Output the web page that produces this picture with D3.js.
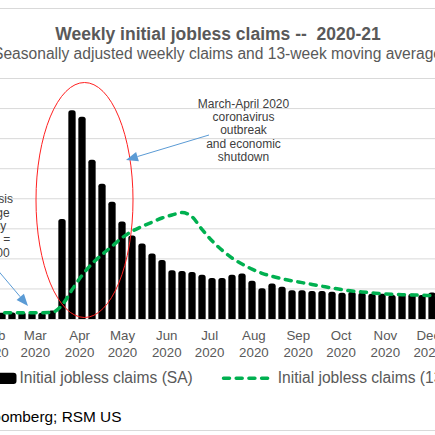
<!DOCTYPE html>
<html>
<head>
<meta charset="utf-8">
<script src="https://cdn.jsdelivr.net/npm/d3@7"></script>
<style>
  html, body { margin: 0; padding: 0; background: #fff; overflow: hidden; }
  svg { display: block; font-family: "Liberation Sans", Arial, sans-serif; }
</style>
</head>
<body>
<div id="chart"></div>
<script>
// week-ending dates and claims, in millions
const weekEnding = [
  "2020-02-01", "2020-02-08", "2020-02-15", "2020-02-22", "2020-02-29",
  "2020-03-07", "2020-03-14", "2020-03-21", "2020-03-28",
  "2020-04-04", "2020-04-11", "2020-04-18", "2020-04-25",
  "2020-05-02", "2020-05-09", "2020-05-16", "2020-05-23", "2020-05-30",
  "2020-06-06", "2020-06-13", "2020-06-20", "2020-06-27",
  "2020-07-04", "2020-07-11", "2020-07-18", "2020-07-25",
  "2020-08-01", "2020-08-08", "2020-08-15", "2020-08-22", "2020-08-29",
  "2020-09-05", "2020-09-12", "2020-09-19", "2020-09-26",
  "2020-10-03", "2020-10-10", "2020-10-17", "2020-10-24", "2020-10-31",
  "2020-11-07", "2020-11-14", "2020-11-21", "2020-11-28",
  "2020-12-05", "2020-12-12"
];
const claimsSA = [
  0.21, 0.21, 0.22, 0.23, 0.22,
  0.21, 0.28, 3.33, 6.94,
  6.73, 5.30, 4.50, 3.90,
  3.24, 2.78, 2.51, 2.18, 1.96,
  1.62, 1.60, 1.56, 1.47,
  1.36, 1.36, 1.47, 1.51,
  1.27, 1.02, 1.18, 1.07, 0.96,
  0.96, 0.93, 0.93, 0.91,
  0.87, 0.91, 0.87, 0.84, 0.84,
  0.80, 0.82, 0.84, 0.80,
  0.88, 0.90
];
const claimsMA13 = [
  0.21, 0.21, 0.21, 0.21, 0.21,
  0.21, 0.22, 0.46, 0.97,
  1.45, 1.84, 2.14, 2.42,
  2.70, 2.92, 3.08, 3.22, 3.36,
  3.46, 3.54, 3.40, 2.98,
  2.60, 2.29, 2.03, 1.83,
  1.66, 1.52, 1.42, 1.34, 1.27,
  1.21, 1.15, 1.09, 1.03,
  0.98, 0.93, 0.90, 0.87, 0.84,
  0.82, 0.81, 0.80, 0.79,
  0.78, 0.77
];
const monthTicks = [
  "2020-02-01", "2020-03-01", "2020-04-01", "2020-05-01", "2020-06-01",
  "2020-07-01", "2020-08-01", "2020-09-01", "2020-10-01", "2020-11-01",
  "2020-12-01"
];
const yTicks = [1, 2, 3, 4, 5, 6, 7, 8];

const parse = d3.timeParse("%Y-%m-%d");
const W = 435, H = 435;
const textCol = "#595959", noteCol = "#404040", gridCol = "#D9D9D9";

const svg = d3.select("#chart")
  .append("svg")
  .attr("width", W)
  .attr("height", H);

// chart border (the frame runs off the left and right of the crop)
svg.append("rect")
  .attr("x", -5).attr("y", 8.5)
  .attr("width", W + 10).attr("height", 422)
  .attr("fill", "none")
  .attr("stroke", gridCol);

// title block
svg.append("text")
  .attr("x", 218).attr("y", 40)
  .attr("text-anchor", "middle")
  .attr("font-size", 17.5).attr("font-weight", "bold")
  .attr("fill", textCol)
  .attr("xml:space", "preserve")
  .text("Weekly initial jobless claims --  2020-21");

svg.append("text")
  .attr("x", 217.5).attr("y", 59)
  .attr("text-anchor", "middle")
  .attr("font-size", 15.6)
  .attr("fill", textCol)
  .text("Seasonally adjusted weekly claims and 13-week moving average");

// scales
const x = d3.scaleTime()
  .domain([new Date(2020, 0, 1), new Date(2021, 0, 1)])
  .range([-52.3, 470.6]);
const y = d3.scaleLinear()
  .domain([0, 8])
  .range([319, 78.5]);

const weeks = weekEnding.map(parse);

// gridlines
svg.append("g")
  .selectAll("line")
  .data(yTicks)
  .join("line")
  .attr("x1", -5).attr("x2", W + 5)
  .attr("y1", d => y(d)).attr("y2", d => y(d))
  .attr("stroke", gridCol)
  .attr("stroke-width", 1);

// bars, rounded at the top like the source
const barW = 7.3, r = 2.6;
function barPath(d, i) {
  const cx = x(weeks[i]);
  const x0 = cx - barW / 2, x1 = cx + barW / 2;
  const top = y(d), base = y(0);
  return `M${x0},${base} L${x0},${top + r} Q${x0},${top} ${x0 + r},${top}` +
    ` L${x1 - r},${top} Q${x1},${top} ${x1},${top + r} L${x1},${base} Z`;
}
svg.append("g")
  .selectAll("path")
  .data(claimsSA)
  .join("path")
  .attr("d", barPath)
  .attr("fill", "#000");

// x axis
const xAxis = d3.axisBottom(x)
  .tickValues(monthTicks.map(parse))
  .tickSize(0)
  .tickFormat("");
const gx = svg.append("g")
  .attr("transform", `translate(0,${y(0)})`)
  .call(xAxis);
gx.select(".domain").attr("stroke", gridCol);
gx.selectAll(".tick text").remove();
gx.selectAll(".tick")
  .append("text")
  .attr("text-anchor", "middle")
  .attr("font-size", 13.3)
  .attr("fill", textCol)
  .each(function(d) {
    const t = d3.select(this);
    t.append("tspan").attr("x", 1.4).attr("y", 21).text(d3.timeFormat("%b")(d));
    t.append("tspan").attr("x", 1.4).attr("y", 37.7).text(d3.timeFormat("%Y")(d));
  });

// 13-week moving average
const maLine = d3.line()
  .x((d, i) => x(weeks[i]))
  .y(d => y(d))
  .curve(d3.curveMonotoneX);
svg.append("path")
  .datum(claimsMA13)
  .attr("d", maLine)
  .attr("fill", "none")
  .attr("stroke", "#00B050")
  .attr("stroke-width", 3.5)
  .attr("stroke-linecap", "round")
  .attr("stroke-dasharray", "6,6.7");

// red ellipse around the March-April spike
svg.append("ellipse")
  .attr("cx", 84.5).attr("cy", 200)
  .attr("rx", 48.5).attr("ry", 117.5)
  .attr("fill", "none")
  .attr("stroke", "#FF2020")
  .attr("stroke-width", 1);

// callout arrows
function drawArrow(g, x1, y1, x2, y2) {
  const ang = Math.atan2(y2 - y1, x2 - x1);
  const len = 12, half = 4.8;
  const bx = x2 - len * Math.cos(ang), by = y2 - len * Math.sin(ang);
  g.append("line")
    .attr("x1", x1).attr("y1", y1).attr("x2", bx).attr("y2", by)
    .attr("stroke", "#5B9BD5").attr("stroke-width", 1);
  const px = -Math.sin(ang) * half, py = Math.cos(ang) * half;
  g.append("path")
    .attr("d", `M${x2},${y2} L${bx + px},${by + py} L${bx - px},${by - py} Z`)
    .attr("fill", "#5B9BD5");
}
const notes = svg.append("g");
drawArrow(notes, 209, 135, 126, 160);
drawArrow(notes, -10, 261, 28, 306);

function noteBlock(lines, cx, y0) {
  notes.append("text")
    .attr("text-anchor", "middle")
    .attr("font-size", 12)
    .attr("fill", noteCol)
    .selectAll("tspan")
    .data(lines)
    .join("tspan")
    .attr("x", cx)
    .attr("y", (d, i) => y0 + i * 13.35)
    .text(d => d);
}
noteBlock(["March-April 2020", "coronavirus", "outbreak", "and economic", "shutdown"], 243.5, 107.5);
noteBlock(["Pre-crisis", "average", "weekly", "claims =", "210,000"], -12, 203.3);

// legend
const lg = svg.append("g");
lg.append("rect")
  .attr("x", -30).attr("y", 372.7)
  .attr("width", 46.5).attr("height", 11.3)
  .attr("rx", 3)
  .attr("fill", "#000");
lg.append("text")
  .attr("x", 19.5).attr("y", 383.3)
  .attr("font-size", 15.6)
  .attr("fill", textCol)
  .text("Initial jobless claims (SA)");
lg.append("line")
  .attr("x1", 223.5).attr("x2", 268)
  .attr("y1", 378.3).attr("y2", 378.3)
  .attr("stroke", "#00B050")
  .attr("stroke-width", 3.5)
  .attr("stroke-linecap", "round")
  .attr("stroke-dasharray", "6,6.7");
lg.append("text")
  .attr("x", 277.7).attr("y", 383.3)
  .attr("font-size", 15.6)
  .attr("fill", textCol)
  .text("Initial jobless claims (13-week moving average)");

// source line
svg.append("text")
  .attr("x", 121.5).attr("y", 421.7)
  .attr("text-anchor", "end")
  .attr("font-size", 15.4)
  .attr("fill", "#000")
  .text("Source: Bloomberg; RSM US");
</script>
</body>
</html>
